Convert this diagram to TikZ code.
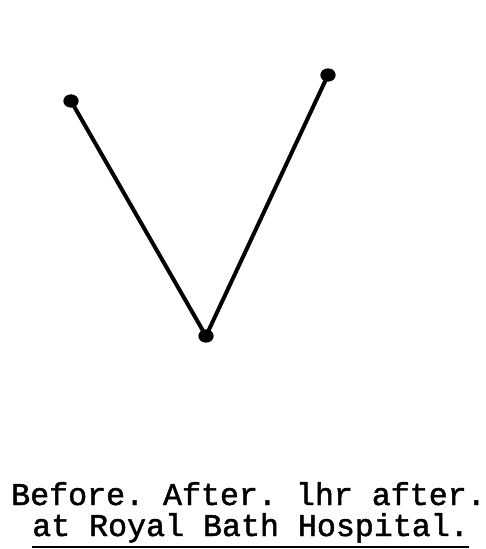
\documentclass[tikz,border=0pt]{standalone}
\usepackage{fontspec}
\newfontfamily\typefont[FakeBold=1.5]{Liberation Mono}
\usepackage{tikz}
\usetikzlibrary{positioning,shapes.geometric}

\begin{document}
\frenchspacing
\begin{tikzpicture}[x=0.03cm, y=-0.03cm, every node/.style={inner sep=0pt},
  dot/.style={ellipse, fill, minimum width=0.46cm, minimum height=0.4cm},
  typed/.style={font=\typefont\fontsize{27}{30}\selectfont, anchor=base west}]
\useasboundingbox (0,0) rectangle (486,549);
\node[dot] (before) at (71,101) {};
\node[dot] (after) at (328,75) {};
\node[dot] (hour) at (206,336) {};
\draw[line width=3.4pt] (before.center) -- (hour.center);
\draw[line width=3.4pt] (hour.center) -- (after.center);
\node[typed] (times) at (11,505) {Before. After. lhr after.};
\node[typed] (place) at (32,536) {at Royal Bath Hospital.};
\draw[line width=1.8pt] ([yshift=-0.33cm]place.base west) -- ([yshift=-0.33cm]place.base east);
\end{tikzpicture}
\end{document}
